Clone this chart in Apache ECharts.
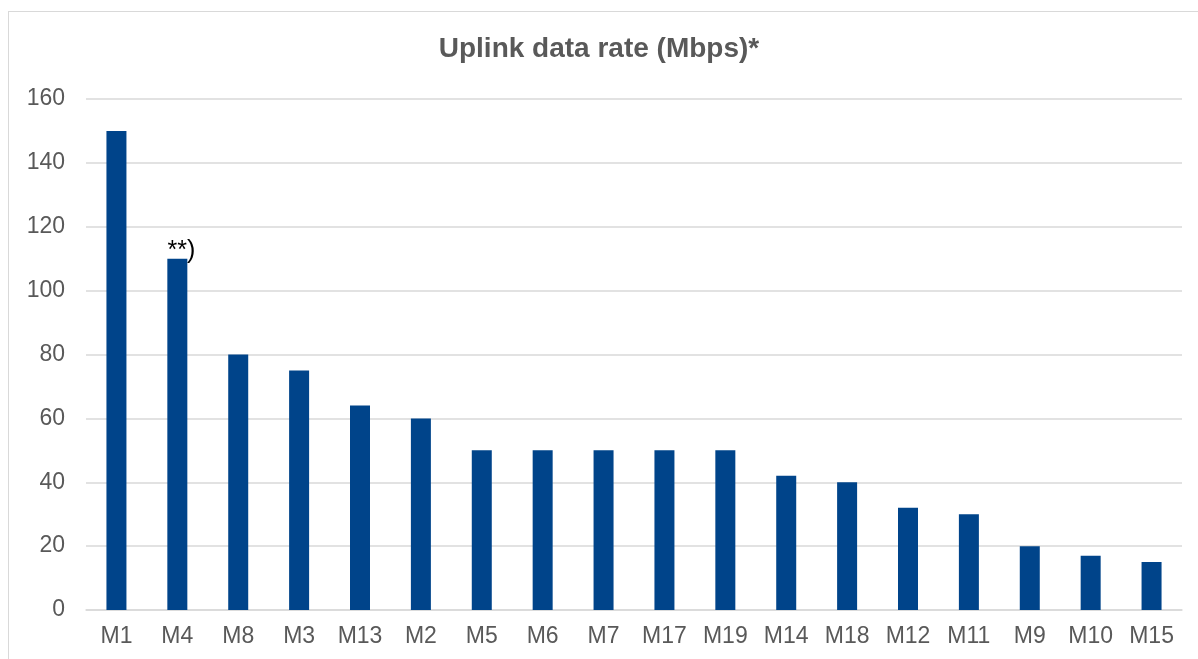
<!DOCTYPE html>
<html>
<head>
<meta charset="utf-8">
<script src="https://cdn.jsdelivr.net/npm/echarts@6/dist/echarts.min.js"></script>
<style>
  html, body { margin: 0; padding: 0; background: #fff; overflow: hidden; }
  .frame {
    position: absolute; left: 8px; top: 11px;
    width: 1300px; height: 800px;
    border: 1px solid #d9d9d9; box-sizing: border-box;
  }
  #chart { position: absolute; left: 0; top: 0; width: 1198px; height: 659px; }
</style>
</head>
<body>
<div class="frame"></div>
<div id="chart"></div>
<script>
// categories and uplink rates (Mbps)
const models = ['M1', 'M4', 'M8', 'M3', 'M13', 'M2', 'M5', 'M6', 'M7', 'M17', 'M19', 'M14', 'M18', 'M12', 'M11', 'M9', 'M10', 'M15'];
const rates = [150, 110, 80, 75, 64, 60, 50, 50, 50, 50, 50, 42, 40, 32, 30, 20, 17, 15];
const notes = { M4: '**)' }; // footnote marks on bars

const chart = echarts.init(document.getElementById('chart'));

const barData = rates.map(function (v, i) {
  const note = notes[models[i]];
  if (!note) return v;
  return {
    value: v,
    label: {
      show: true,
      position: 'top',
      formatter: note,
      color: '#000',
      fontSize: 25,
      fontFamily: 'Liberation Sans, Arial, sans-serif',
      offset: [4, 10]
    }
  };
});

chart.setOption({
  animation: false,
  backgroundColor: 'transparent',
  title: {
    text: 'Uplink data rate (Mbps)*',
    left: 'center',
    top: 30,
    textStyle: {
      color: '#595959',
      fontSize: 28,
      fontWeight: 'bold',
      fontFamily: 'Liberation Sans, Arial, sans-serif'
    }
  },
  grid: { left: 86, right: 16, top: 99, bottom: 49 },
  xAxis: {
    type: 'category',
    data: models,
    axisLine: { lineStyle: { color: '#d9d9d9', width: 1.5 } },
    axisTick: { show: false },
    axisLabel: {
      color: '#595959',
      fontSize: 23,
      margin: 15,
      fontFamily: 'Liberation Sans, Arial, sans-serif'
    }
  },
  yAxis: {
    type: 'value',
    min: 0,
    max: 160,
    interval: 20,
    axisLine: { show: false },
    axisTick: { show: false },
    splitLine: { lineStyle: { color: '#d9d9d9', width: 1.5 } },
    axisLabel: {
      color: '#595959',
      fontSize: 23,
      margin: 21,
      fontFamily: 'Liberation Sans, Arial, sans-serif'
    }
  },
  series: [{
    type: 'bar',
    data: barData,
    barWidth: 20,
    itemStyle: { color: '#00448a' }
  }]
});
</script>
</body>
</html>
